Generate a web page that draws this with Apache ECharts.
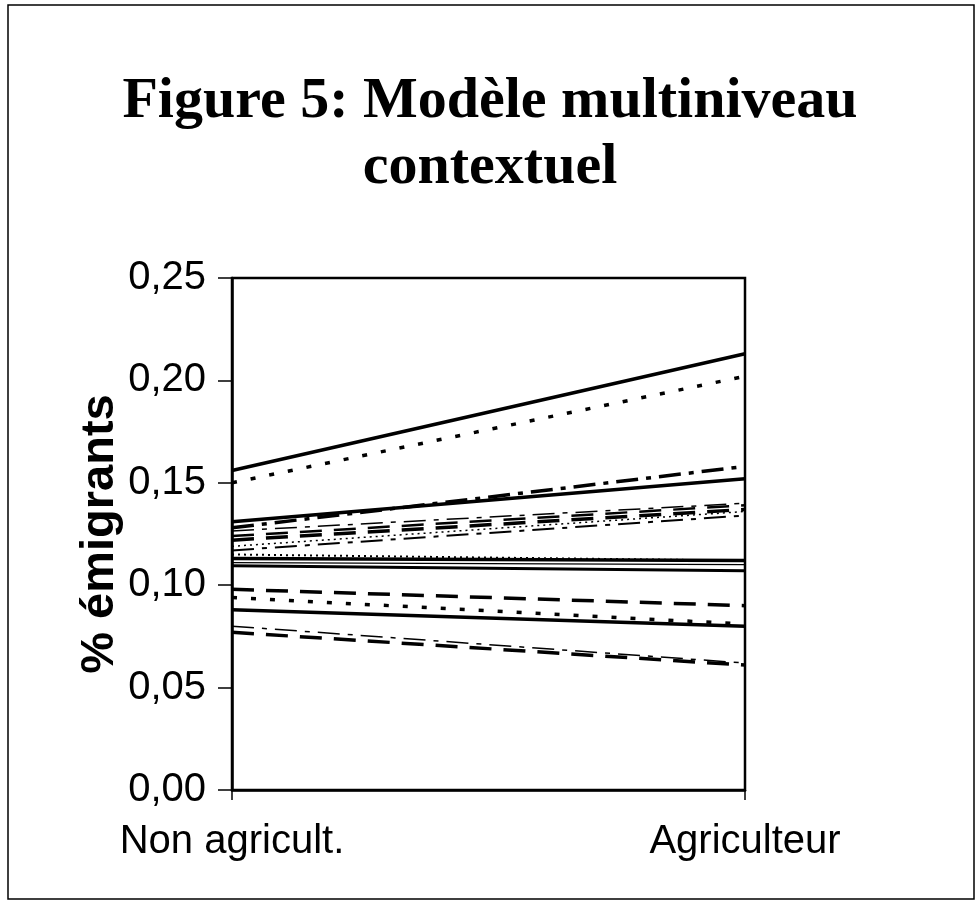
<!DOCTYPE html>
<html lang="fr">

<head>
  <meta charset="UTF-8">
  <script src="https://cdnjs.cloudflare.com/ajax/libs/echarts/6.0.0/echarts.min.js"></script>
  <title>Figure 5</title>
  <style>
    html,
    body,
    main {
      height: 100%;
      width: 100%;
      padding: 0;
      margin: 0;
      background: #fff;
    }
  </style>
</head>

<body>
  <main></main>
</body>
<script>
  const categories = ['Non agricult.', 'Agriculteur']

  // one line per commune, left = non agricult., right = agriculteur
  const topSolid = [0.156, 0.213]
  const topDotted = [0.150, 0.202]
  const upperSolid = [0.131, 0.152]
  const upperDashDot = [0.128, 0.158]
  const clusterA = [0.1265, 0.140]
  const clusterB = [0.124, 0.139]
  const clusterC = [0.122, 0.137]
  const clusterD = [0.119, 0.136]
  const clusterE = [0.117, 0.134]
  const midDotted = [0.115, 0.112]
  const midSolidA = [0.113, 0.112]
  const midSolidThin = [0.111, 0.110]
  const midSolidB = [0.1095, 0.107]
  const lowDashed = [0.098, 0.090]
  const lowDotted = [0.094, 0.081]
  const lowSolid = [0.088, 0.080]
  const bottomDashDot = [0.080, 0.062]
  const bottomDashed = [0.077, 0.061]

  const DOTS = [5, 14]
  const FINE = [2, 4]
  const DASH = [22, 12]
  const DASHDOT = [22, 8, 5, 8]

  const lines = [
    [topSolid, 'solid', 3.5],
    [topDotted, DOTS, 3.5],
    [upperSolid, 'solid', 3.5],
    [upperDashDot, DASHDOT, 3.5],
    [clusterA, DASHDOT, 1.5],
    [clusterB, DASH, 2.5],
    [clusterC, DASH, 3.5],
    [clusterD, FINE, 1.5],
    [clusterE, DASHDOT, 2],
    [midDotted, FINE, 2],
    [midSolidA, 'solid', 3.5],
    [midSolidThin, 'solid', 1.2],
    [midSolidB, 'solid', 3],
    [lowDashed, DASH, 3.5],
    [lowDotted, DOTS, 3.5],
    [lowSolid, 'solid', 3.5],
    [bottomDashDot, DASHDOT, 1.5],
    [bottomDashed, DASH, 3.5]
  ]

  const series = lines.map(([data, type, width], idx) => ({
    type: 'line',
    name: 'c' + idx,
    data: data,
    symbol: 'none',
    silent: true,
    lineStyle: { color: '#000', width: width, type: type, cap: 'butt' }
  }))

  const option = {
    animation: false,
    backgroundColor: '#fff',
    title: {
      text: 'Figure 5: Modèle multiniveau\ncontextuel',
      left: 'center',
      top: 64,
      textStyle: {
        fontFamily: 'Liberation Serif',
        fontWeight: 'bold',
        fontSize: 58,
        lineHeight: 66,
        color: '#000'
      }
    },
    graphic: [{
      type: 'rect',
      shape: { x: 8, y: 5, width: 966, height: 894 },
      style: { fill: null, stroke: '#000', lineWidth: 1.5 }
    }],
    grid: {
      left: 232,
      right: 235,
      top: 278,
      bottom: 115,
      show: true,
      borderColor: '#000',
      borderWidth: 2.5
    },
    xAxis: {
      type: 'category',
      data: categories,
      boundaryGap: false,
      axisLine: { lineStyle: { color: '#000', width: 2.5 } },
      axisTick: { alignWithLabel: true, length: 10, lineStyle: { color: '#000', width: 1.5 } },
      axisLabel: {
        color: '#000',
        fontFamily: 'Liberation Sans',
        fontSize: 40,
        margin: 32,
        interval: 0
      }
    },
    yAxis: {
      type: 'value',
      min: 0,
      max: 0.25,
      interval: 0.05,
      name: '% émigrants',
      nameLocation: 'middle',
      nameGap: 108,
      nameMoveOverlap: false,
      nameRotate: 90,
      nameTextStyle: {
        color: '#000',
        fontFamily: 'Liberation Sans',
        fontWeight: 'bold',
        fontSize: 47
      },
      splitLine: { show: false },
      axisLine: { show: true, lineStyle: { color: '#000', width: 2.5 } },
      axisTick: { show: true, length: 14, lineStyle: { color: '#000', width: 1.5 } },
      axisLabel: {
        color: '#000',
        fontFamily: 'Liberation Sans',
        fontSize: 40,
        margin: 26,
        formatter: (v) => v.toFixed(2).replace('.', ',')
      }
    },
    series: series
  }

  const ins = echarts.init(document.getElementsByTagName('main')[0])
  ins.setOption(option)
</script>

</html>
